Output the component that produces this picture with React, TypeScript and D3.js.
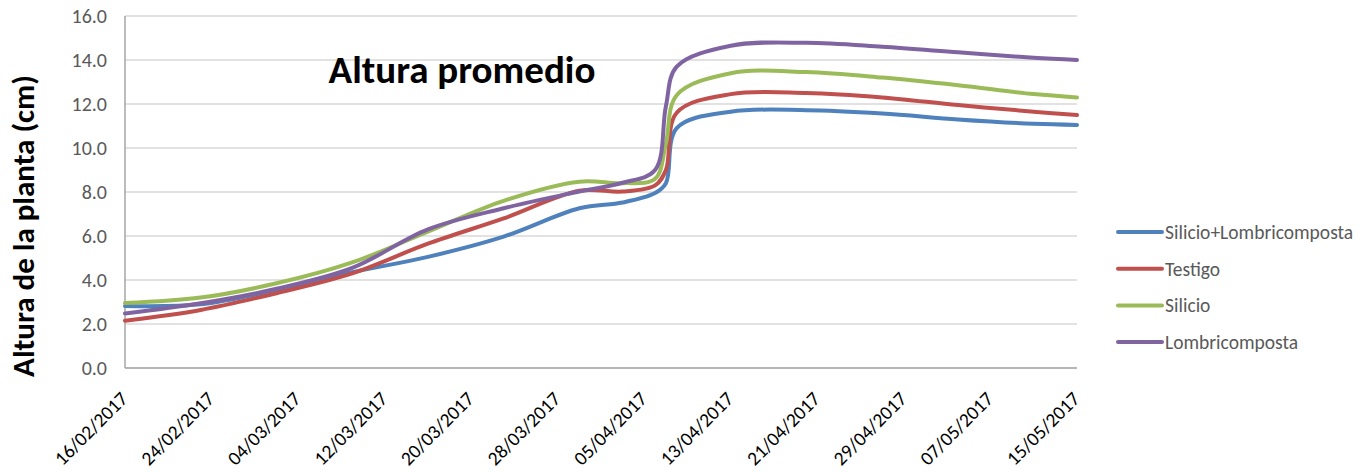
import React from "react";
import * as d3 from "d3";

// fechas de medición (dd/mm/yyyy)
const dates = [
  "16/02/2017", "23/02/2017", "02/03/2017", "09/03/2017", "16/03/2017",
  "23/03/2017", "30/03/2017", "03/04/2017", "06/04/2017", "07/04/2017",
  "08/04/2017", "13/04/2017", "20/04/2017", "27/04/2017", "04/05/2017",
  "11/05/2017", "15/05/2017",
];

const silicioLombri = [2.82, 2.9, 3.55, 4.35, 5.05, 5.97, 7.26, 7.52, 7.95, 8.4, 10.9, 11.65, 11.72, 11.57, 11.3, 11.1, 11.05];
const testigo = [2.15, 2.64, 3.4, 4.3, 5.65, 6.8, 8.06, 8.02, 8.3, 9.0, 11.6, 12.45, 12.5, 12.3, 11.95, 11.65, 11.5];
const silicio = [2.95, 3.2, 3.85, 4.8, 6.2, 7.6, 8.47, 8.4, 8.6, 10.2, 12.4, 13.4, 13.45, 13.2, 12.85, 12.45, 12.3];
const lombri = [2.48, 2.94, 3.6, 4.55, 6.3, 7.26, 8.02, 8.42, 9.0, 11.9, 13.7, 14.65, 14.78, 14.6, 14.35, 14.1, 14.0];

const seriesNames = ["Silicio+Lombricomposta", "Testigo", "Silicio", "Lombricomposta"];
const seriesColors = ["#4F81BD", "#C0504D", "#9BBB59", "#8064A2"];

const xTickLabels = [
  "16/02/2017", "24/02/2017", "04/03/2017", "12/03/2017", "20/03/2017", "28/03/2017",
  "05/04/2017", "13/04/2017", "21/04/2017", "29/04/2017", "07/05/2017", "15/05/2017",
];
const yTicks = [0, 2, 4, 6, 8, 10, 12, 14, 16];

const W = 1370, H = 472;
const left = 125, right = 1077, top = 16, bottom = 368;
const font = "Calibri, Carlito, 'Liberation Sans', Arial, sans-serif";

export default function App() {
  const parse = d3.timeParse("%d/%m/%Y");
  const x = d3.scaleTime()
    .domain([parse("16/02/2017") as Date, parse("15/05/2017") as Date])
    .range([left, right]);
  const y = d3.scaleLinear().domain([0, 16]).range([bottom, top]);

  const allSeries = [silicioLombri, testigo, silicio, lombri];
  const line = d3.line<[Date, number]>()
    .x((d) => x(d[0]))
    .y((d) => y(d[1]))
    .curve(d3.curveCatmullRom.alpha(0.5));

  return (
    <svg width={W} height={H} style={{ position: "absolute", left: 0, top: 0, background: "#fff" }}>
      {/* grid */}
      {yTicks.map((t) => (
        <line key={"g" + t} x1={left} x2={right} y1={y(t)} y2={y(t)} stroke="#D9D9D9" strokeWidth={1.5} />
      ))}
      {/* axes */}
      <line x1={left} x2={left} y1={top} y2={bottom} stroke="#A6A6A6" strokeWidth={1.5} />
      <line x1={left} x2={right} y1={bottom} y2={bottom} stroke="#A6A6A6" strokeWidth={1.5} />

      {yTicks.map((t) => (
        <text key={"y" + t} x={107} y={y(t)} dy="0.35em" textAnchor="end"
          fontFamily={font} fontSize={20} fill="#595959">
          {d3.format(".1f")(t)}
        </text>
      ))}

      {xTickLabels.map((s) => {
        const px = x(parse(s) as Date);
        return (
          <text key={s} transform={`translate(${px + 4},${400}) rotate(-45)`} textAnchor="end"
            fontFamily={font} fontSize={19.5} fill="#000">
            {s}
          </text>
        );
      })}

      <text transform={`translate(34,226) rotate(-90)`} textAnchor="middle"
        fontFamily={font} fontWeight="bold" fontSize={31} fill="#000">
        Altura de la planta (cm)
      </text>

      <text x={462} y={83} textAnchor="middle" fontFamily={font} fontWeight="bold" fontSize={39} fill="#000">
        Altura promedio
      </text>

      {allSeries.map((vals, i) => (
        <path key={seriesNames[i]}
          d={line(vals.map((v, j) => [parse(dates[j]) as Date, v])) || ""}
          fill="none" stroke={seriesColors[i]} strokeWidth={4} strokeLinecap="round" />
      ))}

      {seriesNames.map((n, i) => (
        <g key={"l" + n} transform={`translate(1118,${232 + i * 36.7})`}>
          <line x1={0} x2={44} y1={0} y2={0} stroke={seriesColors[i]} strokeWidth={4} strokeLinecap="round" />
          <text x={47} y={0} dy="0.35em" fontFamily={font} fontSize={19.5} fill="#595959">{n}</text>
        </g>
      ))}
    </svg>
  );
}
